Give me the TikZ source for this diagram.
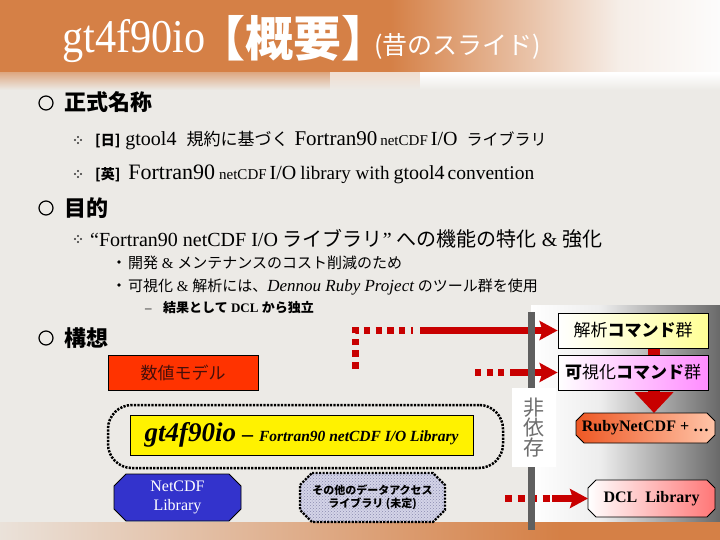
\documentclass[tikz,border=0pt]{standalone}
\usepackage{fontspec}
\setmainfont{Liberation Serif}
\newfontfamily\jp{Noto Sans CJK JP}
\usetikzlibrary{arrows.meta,patterns}
\definecolor{bgc}{RGB}{236,234,230}
\definecolor{hdr}{RGB}{213,128,70}
\definecolor{hdrw}{RGB}{246,238,232}
\definecolor{arrred}{RGB}{200,0,0}
\definecolor{barc}{RGB}{95,95,95}
\definecolor{modelred}{RGB}{255,51,0}
\definecolor{modeltxt}{RGB}{70,15,10}
\definecolor{netblue}{RGB}{51,51,204}
\definecolor{lav}{RGB}{212,212,232}
\definecolor{lavd}{RGB}{140,140,175}
\definecolor{kyel}{RGB}{255,255,150}
\definecolor{kpink}{RGB}{255,140,255}
\definecolor{rubyL}{RGB}{238,88,36}
\definecolor{rubyR}{RGB}{255,196,168}
\definecolor{dclR}{RGB}{255,118,118}
\definecolor{pgray}{RGB}{105,105,105}
\definecolor{hizonc}{RGB}{110,110,110}
\newcommand\sz[1]{\fontsize{#1}{#1}\selectfont}
\newcommand\octa[6]{\path[#1] ({#2+#6},#3) -- ({#4-#6},#3) -- (#4,{#3+#6}) -- (#4,{#5-#6}) -- ({#4-#6},#5) -- ({#2+#6},#5) -- (#2,{#5-#6}) -- (#2,{#3+#6}) -- cycle;}
\newcommand\qdots[2]{\fill[black!80] ({#1-3},#2) circle[radius=1.1pt] ({#1+3},#2) circle[radius=1.1pt] (#1,{#2-3}) circle[radius=1.1pt] (#1,{#2+3}) circle[radius=1.1pt];}
\pgfdeclarelayer{back}\pgfdeclarelayer{mid}\pgfsetlayers{back,mid,main}
\begin{document}
\begin{tikzpicture}[x=1pt,y=-1pt,
  box/.style={draw=black, line width=0.8pt, inner sep=0pt},
  plain/.style={inner sep=0pt, outer sep=0pt},
  txt/.style={inner sep=0pt, anchor=base west},
  reddash/.style={draw=arrred, line width=7pt, dash pattern=on 6.5pt off 5.2pt},
  redarrow/.style={draw=arrred, line width=7pt, -{Stealth[length=18pt,width=19pt,inset=3pt]}},
  dotframe/.style={draw=black, line width=2.5pt, dash pattern=on 2.2pt off 1.3pt},
  hbullet/.style={circle, draw=black, line width=1.2pt, minimum size=14pt, inner sep=0pt}]
\useasboundingbox (0,0) rectangle (720,540);
\begin{pgfonlayer}{back}
\fill[bgc] (0,0) rectangle (720,540);
% header
\fill[hdr] (0,0) rectangle (390,73);
\shade[left color=hdr, right color=hdrw] (390,0) rectangle (620,73);
\shade[left color=hdrw, right color=white!85!bgc] (620,0) rectangle (720,73);
\shade[top color=hdr!60!bgc, bottom color=bgc] (0,73) rectangle (330,90);
\shade[top color=hdr!30!white!70!bgc, bottom color=bgc] (330,73) rectangle (420,90);
\shade[top color=white, bottom color=bgc] (420,73) rectangle (720,90);
% right panel
\shade[left color=white, right color=white!93!black] (531,305) rectangle (600,522);
\shade[left color=white!93!black, right color=pgray] (600,305) rectangle (720,522);
% footer
\shade[left color=bgc!92!hdr, right color=hdr] (0,522) rectangle (560,540);
\fill[hdr] (560,522) rectangle (720,540);
\end{pgfonlayer}

% title
\node[txt, text=white] (title1) at (62,53) {\scalebox{0.9}[1]{\sz{47}gt4f90io}};
\node[txt, text=white] (title2) at (213,57) {\jp\bfseries\sz{48}\kern-16pt【概要】\kern-17pt};
\node[txt, text=white] (title3) at (374,55) {\jp\sz{25}(昔のスライド)};

% headings
\node[hbullet] (hb1) at (46,103) {};
\node[txt] (h1) at (64,111) {\jp\bfseries\sz{22}正式名称};
\node[hbullet] (hb2) at (46,208) {};
\node[txt] (h2) at (64,216) {\jp\bfseries\sz{22}目的};
\node[hbullet] (hb3) at (46,338) {};
\node[txt] (h3) at (64,346) {\jp\bfseries\sz{22}構想};

% sub bullets
\qdots{78}{140}
\qdots{78}{174}
\qdots{78}{239}
\node[txt] (l1) at (95,146) {{\jp\bfseries\sz{14}[日]}\hspace{5pt}{\sz{20}gtool4}\hspace{10pt}{\jp\sz{17}規約に基づく}\hspace{6pt}{\sz{21}Fortran90}\hspace{3pt}{\sz{15}netCDF}\hspace{3pt}{\sz{20}I/O}\hspace{9pt}{\jp\sz{16}ライブラリ}};
\node[txt] (l2) at (95,180) {{\jp\bfseries\sz{14}[英]}\hspace{8pt}{\sz{22}Fortran90}\hspace{4pt}{\sz{15}netCDF}\hspace{3pt}{\sz{20}I/O}\hspace{4pt}{\sz{19}library with}\hspace{4pt}{\sz{20}gtool4}\hspace{3pt}{\sz{19.5}convention}};
\node[txt] (l3) at (90,246) {\sz{20}“Fortran90 netCDF I/O {\jp ライブラリ}” {\jp への機能の特化} \& {\jp 強化}};
\fill[black] (119,262) circle[radius=1.8pt];
\fill[black] (119,285) circle[radius=1.8pt];
\node[txt] (l4) at (128,268) {\sz{15}{\jp 開発} \& {\jp メンテナンスのコスト削減のため}};
\node[txt] (l5) at (128,291) {\sz{15}{\jp 可視化} \& {\jp 解析には、}{\sz{17}\itshape Dennou Ruby Project} {\jp のツール群を使用}};
\node[txt] (l6a) at (145,312) {\sz{13}–};
\node[txt] (l6) at (163,312) {\sz{13}\bfseries{\jp 結果として} DCL {\jp から独立}};

% left diagram
\node[box, fill=modelred, minimum width=150pt, minimum height=35pt, text=modeltxt] (model) at (183,372.5) {\jp\sz{17}数値モデル};
\node[dotframe, rounded corners=24pt, minimum width=395pt, minimum height=63pt] (group) at (305.5,436.5) {};
\node[box, fill=yellow, minimum width=343pt, minimum height=40pt] (gt) at (301.5,435) {{\bfseries\itshape\sz{27}gt4f90io}\hspace{6pt}{\bfseries\sz{22}–}\hspace{6pt}{\bfseries\itshape\sz{15.5}Fortran90 netCDF I/O Library}};
\octa{draw=black, line width=0.8pt, fill=netblue}{114}{474}{241}{521}{12}
\node[plain, align=center, text=white, minimum width=127pt, minimum height=47pt, font=\fontsize{16}{19}\selectfont] (netcdf) at (177.5,497.5) {NetCDF\\Library};
\octa{dotframe, line width=2.4pt, preaction={fill=lav}, pattern=crosshatch dots, pattern color=lavd}{300}{473}{445}{522}{12}
\node[plain, align=center, minimum width=145pt, minimum height=49pt, font=\jp\bfseries\fontsize{11}{12.5}\selectfont] (other) at (372.5,497.5) {その他のデータアクセス\\ライブラリ (未定)};

% right diagram
\node[box, left color=white, right color=kyel, minimum width=150pt, minimum height=35pt] (kaiseki) at (633,330.5) {\jp\sz{17}解析{\bfseries コマンド}群};
\node[box, left color=white, right color=kpink, minimum width=150pt, minimum height=35pt] (kashika) at (633,372.5) {\jp\sz{17}{\bfseries 可}視化{\bfseries コマンド}群};
\octa{draw=black, line width=0.8pt, left color=rubyL, right color=rubyR}{576}{413}{715}{443}{8}
\node[plain, minimum width=139pt, minimum height=30pt] (ruby) at (645.5,428) {\bfseries\sz{16}RubyNetCDF + …};
\octa{draw=black, line width=0.8pt, left color=white, right color=dclR}{588}{480}{715}{517}{8}
\node[plain, minimum width=127pt, minimum height=37pt] (dcl) at (651.5,498.5) {\bfseries\sz{16}DCL\ \ Library};

\begin{pgfonlayer}{mid}
\draw[draw=arrred, line width=12pt, -{Triangle[length=21pt,width=38pt]}] ([xshift=21pt]kaiseki.south) -- ([xshift=8.5pt]ruby.north);
\end{pgfonlayer}

% red arrows
\coordinate (a0) at (355,368.5);
\coordinate (a1) at (355,330.5);
\coordinate (a2) at (413,330.5);
\coordinate (a3) at (420,330.5);
\draw[reddash] (a0) -- (a1) -- (a2);
\draw[redarrow] (a3) -- (kaiseki.west);
\coordinate (b0) at (475,372.5);
\coordinate (b1) at (504,372.5);
\coordinate (b2) at (510,372.5);
\draw[reddash, dash pattern=on 6pt off 5.5pt] (b0) -- (b1);
\draw[redarrow] (b2) -- (kashika.west);
\coordinate (c0) at (505,498.5);
\coordinate (c1) at (549.5,498.5);
\coordinate (c2) at (552,498.5);
\draw[reddash, dash pattern=on 7pt off 5.5pt] (c0) -- (c1);
\draw[redarrow] (c2) -- (dcl.west);

% separator bar
\draw[barc, line width=7pt] (531.5,312) -- (531.5,530);
\node[plain, fill=white, minimum width=44pt, minimum height=79pt, align=center, text=hizonc, font=\jp\fontsize{21}{18}\selectfont] (hizon) at (534,427.5) {非\\依\\存};
\end{tikzpicture}
\end{document}
